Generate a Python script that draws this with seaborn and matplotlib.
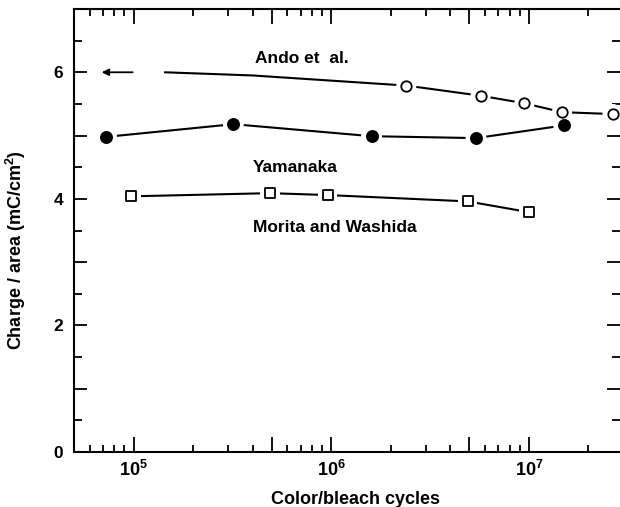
import numpy as np
import pandas as pd
import matplotlib
matplotlib.use("Agg")
import matplotlib.pyplot as plt
from matplotlib.ticker import FixedLocator, FuncFormatter, MultipleLocator
import seaborn as sns

# Charge density retained versus number of colour/bleach cycles
ando_cycles = [1.44e5, 4.0e5, 2.4e6, 5.7e6, 9.5e6, 1.47e7, 2.65e7]
ando_charge = [6.00, 5.95, 5.79, 5.63, 5.51, 5.37, 5.34]
ando_marked = [2, 3, 4, 5, 6]          # indices drawn with open circles

yamanaka_cycles = [7.3e4, 3.2e5, 1.6e6, 5.4e6, 1.5e7]
yamanaka_charge = [4.98, 5.18, 4.99, 4.96, 5.16]

morita_cycles = [9.7e4, 4.9e5, 9.6e5, 4.9e6, 1.0e7]
morita_charge = [4.04, 4.09, 4.06, 3.96, 3.79]

series_labels = ["Ando et  al.", "Yamanaka", "Morita and Washida"]
label_pos = [(4.1e5, 6.21), (4.0e5, 4.50), (4.0e5, 3.55)]

arrow_tail = (9.9e4, 6.0)
arrow_head = (6.9e4, 6.0)

x_limits = (5.0e4, 2.89e7)
y_limits = (0, 7)
y_labelled = [0, 2, 4, 6]
x_label = "Color/bleach cycles"
y_label = "Charge / area (mC/cm$^{2}$)"

sns.set_theme(style="ticks")
ink = "black"
plt.rcParams["font.family"] = ["Liberation Sans", "DejaVu Sans"]
plt.rcParams["font.weight"] = "bold"
plt.rcParams["text.color"] = ink
plt.rcParams["axes.labelcolor"] = ink
plt.rcParams["xtick.color"] = ink
plt.rcParams["ytick.color"] = ink
plt.rcParams["mathtext.fontset"] = "custom"
plt.rcParams["mathtext.rm"] = "Liberation Sans:bold"
plt.rcParams["mathtext.bf"] = "Liberation Sans:bold"
plt.rcParams["mathtext.it"] = "Liberation Sans:bold"
plt.rcParams["mathtext.default"] = "bf"

fig = plt.figure(figsize=(6.2, 5.07), dpi=100)
ax = fig.add_axes([74 / 620, 1 - 452 / 507, 1 - 74 / 620, (452 - 9) / 507])

lw = 1.5


def draw_series(xs, ys, marked, marker, filled, size):
    df = pd.DataFrame({"x": xs, "y": ys})
    sns.lineplot(data=df, x="x", y="y", ax=ax, color=ink, lw=lw,
                 sort=False, estimator=None, zorder=2)
    pts = df.iloc[marked]
    # white halo leaves a small gap between the line and the symbol
    sns.scatterplot(data=pts, x="x", y="y", ax=ax, marker=marker,
                    s=(size + 7) ** 2, color="white", edgecolor="none",
                    linewidth=0, zorder=3)
    sns.scatterplot(data=pts, x="x", y="y", ax=ax, marker=marker,
                    s=size ** 2, color=ink if filled else "white",
                    edgecolor=ink, linewidth=1.3, zorder=4)


draw_series(ando_cycles, ando_charge, ando_marked, "o", False, 7.5)
draw_series(yamanaka_cycles, yamanaka_charge,
            list(range(len(yamanaka_cycles))), "o", True, 8.0)
draw_series(morita_cycles, morita_charge,
            list(range(len(morita_cycles))), "s", False, 7.0)

ax.annotate("", xy=arrow_head, xytext=arrow_tail,
            arrowprops=dict(arrowstyle="-|>", color=ink, lw=1.3,
                            mutation_scale=10, shrinkA=0, shrinkB=0))

for text, (tx, ty) in zip(series_labels, label_pos):
    ax.text(tx, ty, text, ha="left", va="center", fontsize=12.5,
            fontweight="bold", color=ink)

ax.set_xscale("log")
ax.set_xlim(*x_limits)
ax.set_ylim(*y_limits)

decades = [1e5, 1e6, 1e7]
long_x = sorted(decades + [5e4, 5e5, 5e6])
short_x = [m * d for d in [1e4, 1e5, 1e6, 1e7] for m in range(2, 10)
           if m != 5]
ax.xaxis.set_major_locator(FixedLocator(long_x))
ax.xaxis.set_minor_locator(FixedLocator(short_x))


def dec_fmt(v, pos):
    e = np.log10(v)
    if abs(e - round(e)) < 1e-6:
        return r"$\mathbf{10^{%d}}$" % round(e)
    return ""


ax.xaxis.set_major_formatter(FuncFormatter(dec_fmt))
ax.xaxis.set_minor_formatter(FuncFormatter(lambda v, p: ""))

ax.yaxis.set_major_locator(MultipleLocator(1))
ax.yaxis.set_minor_locator(MultipleLocator(0.5))
ax.yaxis.set_major_formatter(
    FuncFormatter(lambda v, p: f"{int(round(v))}" if round(v) in y_labelled else ""))

ax.tick_params(axis="both", which="both", direction="in", top=True,
               right=True, colors=ink, width=1.3)
ax.tick_params(axis="x", which="major", length=11, labelsize=13, pad=6)
ax.tick_params(axis="x", which="minor", length=5)
ax.tick_params(axis="y", which="major", length=9.5, labelsize=12.5, pad=8)
ax.tick_params(axis="y", which="minor", length=5.5)

for side in ["left", "bottom", "top"]:
    ax.spines[side].set_linewidth(1.5)
    ax.spines[side].set_color(ink)
ax.spines["right"].set_visible(False)

ax.set_xlabel(x_label, fontsize=13, fontweight="bold")
ax.set_ylabel(y_label, fontsize=13, fontweight="bold")
ax.xaxis.set_label_coords(0.516, -0.088)
ax.yaxis.set_label_coords(-0.084, 0.456)

fig.savefig("out.png", dpi=100, facecolor="white")
